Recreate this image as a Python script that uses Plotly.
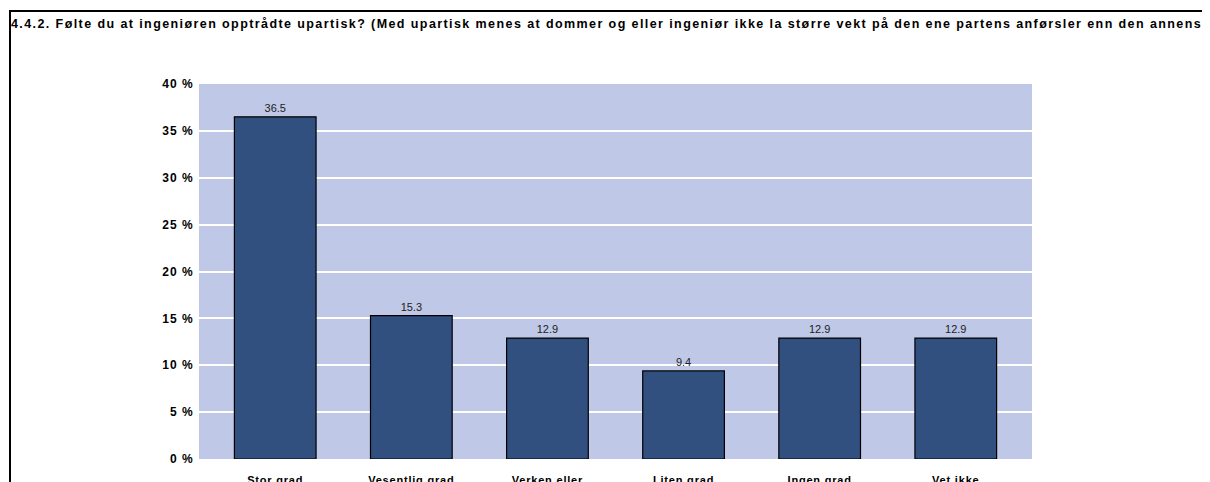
import plotly.graph_objects as go

# survey answers (percent)
categories = ["Stor grad", "Vesentlig grad", "Verken eller", "Liten grad", "Ingen grad", "Vet ikke"]
values = [36.5, 15.3, 12.9, 9.4, 12.9, 12.9]
y_ticks = [0, 5, 10, 15, 20, 25, 30, 35, 40]

TITLE = ("4.4.2. Følte du at ingeniøren opptrådte upartisk? (Med upartisk menes at dommer "
         "og eller ingeniør ikke la større vekt på den ene partens anførsler enn den annens)")
FONT = "Liberation Sans, Arial, sans-serif"


def spaced(txt, px):
    return f"<b><span style='letter-spacing:{px}px'>{txt}</span></b>"


# the page body has an 8px margin, so the figure is a bit smaller than the window
W, H = 1202, 474
L, R, T, B = 191, 178, 76, 23

fig = go.Figure(go.Bar(
    x=categories, y=values,
    marker=dict(color="#31507f", line=dict(color="#000000", width=1.2)),
    width=0.6,
    text=[f"{v:.1f}" for v in values],
    textposition="outside",
    textfont=dict(family=FONT, size=11, color="#222222"),
    cliponaxis=False,
))

pw = W - L - R
ph = H - T - B
fig.add_shape(type="rect", xref="paper", yref="paper",
              x0=(2 - L) / pw, x1=(W + 20 - L) / pw,
              y0=-(B + 20) / ph, y1=(H - 3 - B) / ph,
              line=dict(color="#000000", width=2), fillcolor="rgba(0,0,0,0)",
              layer="above")

fig.update_layout(
    width=W, height=H,
    margin=dict(l=L, r=R, t=T, b=B, autoexpand=False),
    paper_bgcolor="#ffffff",
    plot_bgcolor="#bfc8e6",
    showlegend=False,
    title=dict(text=spaced(TITLE, 1.41), x=3 / W, xanchor="left",
               y=1 - 16 / H, yanchor="middle",
               font=dict(family=FONT, size=12.5, color="#000000")),
    xaxis=dict(range=[-0.56, 5.56], showgrid=False, zeroline=False,
               tickvals=categories, ticktext=[spaced(c, 0.8) for c in categories],
               ticks="outside", ticklen=11, tickcolor="rgba(0,0,0,0)",
               tickfont=dict(family=FONT, size=11, color="#000000"),
               automargin=False),
    yaxis=dict(range=[0, 40], tickvals=y_ticks,
               ticktext=[spaced(f"{v} %", 1.0) for v in y_ticks],
               gridcolor="#ffffff", gridwidth=1.5, zeroline=False,
               ticks="outside", ticklen=2, tickcolor="rgba(0,0,0,0)",
               tickfont=dict(family=FONT, size=12, color="#000000"),
               automargin=False),
)

fig.write_html("out.html")
